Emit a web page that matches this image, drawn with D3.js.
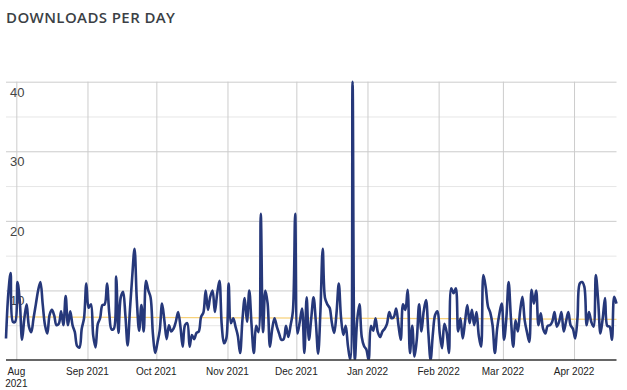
<!DOCTYPE html>
<html>
<head>
<meta charset="utf-8">
<script src="https://cdn.jsdelivr.net/npm/d3@7"></script>
<style>
  body { margin: 0; background: #fff; }
  .title { font-family: 'Open Sans', sans-serif; font-weight: 600; font-size: 15px; letter-spacing: 0.4px; fill: #3b3f45; }
  .ylab { font-family: Arial, 'Liberation Sans', sans-serif; font-size: 13px; fill: #444; }
  .xlab { font-family: Arial, 'Liberation Sans', sans-serif; font-size: 10px; fill: #222; }
</style>
</head>
<body>
<svg id="chart"></svg>
<script>
// first day of the series (noon, so the month lines fall between days)
var startDay = new Date(2021, 6, 27, 12);

// downloads per day
var downloads = [
  3.1, 9.5, 12.5, 5.5, 5.5, 11.2, 8.5, 2.9, 6.0, 8.0,
  4.8, 4.0, 6.0, 8.0, 10.0, 11.2, 8.0, 5.0, 3.8, 6.5,
  7.2, 6.4, 5.0, 5.2, 7.0, 5.0, 9.2, 5.0, 7.0, 5.0,
  4.0, 2.0, 1.8, 4.5, 6.0, 11.0, 7.5, 8.0, 3.5, 1.8,
  5.2, 6.0, 7.9, 8.0, 11.0, 6.7, 4.4, 4.5, 12.0, 3.9,
  9.0, 9.8, 6.5, 2.1, 7.2, 12.0, 16.0, 8.6, 4.2, 7.9,
  4.1, 11.4, 10.0, 9.0, 3.8, 1.0, 2.5, 4.3, 8.1, 5.7,
  3.0, 5.0, 4.1, 4.5, 5.5, 6.9, 4.8, 1.9, 5.0, 5.3,
  1.9, 3.6, 3.0, 3.9, 4.1, 6.2, 6.8, 10.0, 7.2, 9.1,
  10.0, 6.9, 9.5, 11.4, 5.0, 2.4, 3.1, 11.0, 5.3, 6.0,
  4.8, 3.5, 1.0, 5.7, 8.9, 5.5, 10.0, 5.0, 1.0, 4.9,
  4.0, 21.0, 4.0, 10.0, 8.1, 1.9, 4.5, 6.0, 4.8, 3.8,
  2.9, 3.0, 4.9, 3.3, 5.0, 7.0, 21.0, 3.8, 5.5, 7.4,
  1.0, 9.0, 2.9, 6.0, 9.0, 5.5, 0.9, 7.0, 16.0, 8.9,
  8.0, 7.5, 5.3, 3.9, 6.7, 11.0, 6.0, 3.6, 4.9, 2.0,
  0.0, 40.0, 0.0, 5.7, 8.0, 3.3, 2.0, 1.5, 0.0, 4.9,
  4.2, 6.0, 4.0, 3.3, 4.1, 4.5, 5.2, 6.9, 6.0, 6.2,
  7.4, 5.0, 2.9, 8.0, 7.2, 10.1, 1.0, 4.9, 0.5, 3.0,
  8.0, 4.1, 7.0, 8.6, 4.0, 0.0, 3.8, 6.5, 7.0, 3.8,
  1.7, 5.2, 4.0, 1.0, 10.3, 9.6, 10.3, 4.1, 6.0, 3.1,
  5.5, 7.9, 5.3, 7.2, 5.0, 6.9, 3.5, 1.9, 12.2, 10.5,
  7.7, 6.8, 5.0, 1.0, 4.5, 6.7, 8.1, 2.9, 6.0, 11.2,
  6.0, 1.9, 5.7, 4.1, 7.0, 9.1, 5.7, 4.0, 2.6, 10.1,
  8.1, 10.0, 5.0, 6.7, 4.5, 3.8, 4.9, 5.0, 5.5, 6.9,
  4.8, 5.5, 6.9, 4.1, 5.5, 6.9, 5.0, 4.5, 3.1, 6.0,
  11.0, 11.2, 10.5, 5.0, 6.9, 5.5, 4.8, 12.2, 8.6, 3.8,
  6.0, 8.9, 4.9, 4.8, 2.9, 9.1, 8.1
];

// trend line, start and end value
var trend = [6.2, 5.85];

var yMajor = [10, 20, 30, 40];
var yMinor = [5, 15, 25, 35];
var monthLabels = ['Aug 2021', 'Sep 2021', 'Oct 2021', 'Nov 2021', 'Dec 2021',
                   'Jan 2022', 'Feb 2022', 'Mar 2022', 'Apr 2022'];
var monthTicks = d3.timeMonth.range(new Date(2021, 7, 1), new Date(2022, 3, 2));

var width = 627, height = 390;
var margin = {top: 81.7, right: 10.5, bottom: 30, left: 6};
var innerW = width - margin.left - margin.right;
var innerH = height - margin.top - margin.bottom;

var dataset = downloads.map(function(v, i) {
  return {date: d3.timeDay.offset(startDay, i), value: v};
});

var svg = d3.select('#chart')
  .attr('width', width)
  .attr('height', height);

svg.append('text')
  .attr('class', 'title')
  .attr('x', 6)
  .attr('y', 23)
  .text('DOWNLOADS PER DAY');

var g = svg.append('g')
  .attr('transform', 'translate(' + margin.left + ',' + margin.top + ')');

var x = d3.scaleTime()
  .domain([dataset[0].date, dataset[dataset.length - 1].date])
  .range([0, innerW]);
var y = d3.scaleLinear()
  .domain([0, 40])
  .range([innerH, 0]);

// horizontal grid
g.append('g')
  .call(d3.axisLeft(y).tickValues(yMinor).tickSize(-innerW).tickFormat(''))
  .call(function(a) { a.select('.domain').remove(); })
  .selectAll('line').attr('stroke', '#e6e6e6');
g.append('g')
  .call(d3.axisLeft(y).tickValues(yMajor).tickSize(-innerW).tickFormat(''))
  .call(function(a) { a.select('.domain').remove(); })
  .selectAll('line').attr('stroke', '#cccccc');

// vertical month lines
g.append('g')
  .call(d3.axisBottom(x).tickValues(monthTicks).tickSize(-innerH).tickFormat('')
    .tickSizeOuter(0))
  .attr('transform', 'translate(0,' + innerH + ')')
  .call(function(a) { a.select('.domain').remove(); })
  .selectAll('line').attr('stroke', '#cccccc');

// y labels sit inside the plot, under their gridline
g.selectAll('.ylab')
  .data(yMajor)
  .enter()
  .append('text')
  .attr('class', 'ylab')
  .attr('x', 4)
  .attr('y', function(d) { return y(d) + 15; })
  .text(function(d) { return d; });

// trend line
g.append('line')
  .attr('x1', 0).attr('x2', innerW)
  .attr('y1', y(trend[0])).attr('y2', y(trend[1]))
  .attr('stroke', '#f7d27c')
  .attr('stroke-width', 1.2);

g.append('clipPath').attr('id', 'clip')
  .append('rect')
  .attr('x', -2).attr('y', -2)
  .attr('width', innerW + 4).attr('height', innerH + 2);

var line = d3.line()
  .x(function(d) { return x(d.date); })
  .y(function(d) { return y(d.value); })
  .curve(d3.curveCatmullRom);

g.append('path')
  .datum(dataset)
  .attr('clip-path', 'url(#clip)')
  .attr('fill', 'none')
  .attr('stroke', '#26387a')
  .attr('stroke-width', 2.6)
  .attr('stroke-linejoin', 'round')
  .attr('d', line);

// baseline
g.append('line')
  .attr('x1', 0).attr('x2', innerW)
  .attr('y1', innerH).attr('y2', innerH)
  .attr('stroke', '#333')
  .attr('stroke-width', 1.5);

// month labels, the first one wraps because it hits the edge
g.selectAll('.xlab')
  .data(monthTicks)
  .enter()
  .append('text')
  .attr('class', 'xlab')
  .attr('text-anchor', 'middle')
  .attr('x', function(d) { return x(d); })
  .attr('y', innerH + 15)
  .each(function(d, i) {
    var t = d3.select(this);
    if (i == 0) {
      var parts = monthLabels[i].split(' ');
      t.append('tspan').attr('x', x(d)).text(parts[0]);
      t.append('tspan').attr('x', x(d)).attr('dy', 12).text(parts[1]);
    } else {
      t.text(monthLabels[i]);
    }
  });
</script>
</body>
</html>
